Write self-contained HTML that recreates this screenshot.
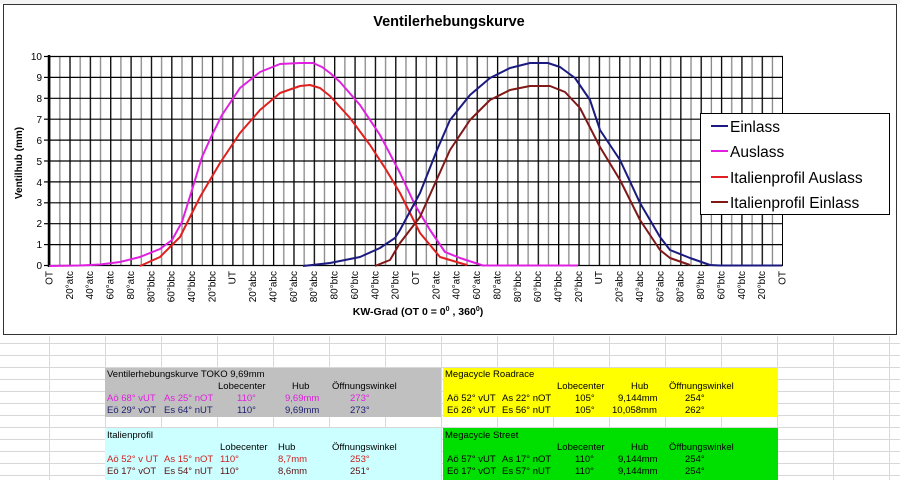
<!DOCTYPE html>
<html><head><meta charset="utf-8"><style>
body{margin:0;background:#fff;}
svg{display:block;font-family:"Liberation Sans",sans-serif;}
</style></head><body>
<svg width="900" height="480" viewBox="0 0 900 480">
<defs>
<pattern id="vg" patternUnits="userSpaceOnUse" x="49" y="0" width="20.361" height="10">
<rect x="0" y="0" width="1.3" height="10" fill="#000"/>
<rect x="10.18" y="0" width="1.3" height="10" fill="#888"/>
</pattern>
<pattern id="sg" patternUnits="userSpaceOnUse" x="49" y="343" width="56" height="12">
<rect x="0" y="0" width="1" height="12" fill="#d8d8d8"/>
<rect x="0" y="0" width="56" height="1" fill="#d8d8d8"/>
</pattern>
</defs>
<!-- spreadsheet grid -->
<rect x="0" y="336" width="900" height="144" fill="url(#sg)"/>
<rect x="0" y="0" width="900" height="4" fill="#f4f4f4"/>
<!-- chart frame -->
<rect x="3.5" y="4.5" width="893" height="330" fill="#fff" stroke="#333" stroke-width="1"/>
<text x="449" y="26" font-size="14.5" font-weight="bold" text-anchor="middle">Ventilerhebungskurve</text>
<!-- grid -->
<rect x="49" y="56" width="734" height="210" fill="url(#vg)"/>
<g stroke="#000" stroke-width="1.2">
<line x1="49" y1="56.5" x2="783" y2="56.5"/><line x1="49" y1="77.4" x2="783" y2="77.4"/><line x1="49" y1="98.3" x2="783" y2="98.3"/><line x1="49" y1="119.2" x2="783" y2="119.2"/><line x1="49" y1="140.1" x2="783" y2="140.1"/><line x1="49" y1="161" x2="783" y2="161"/><line x1="49" y1="181.9" x2="783" y2="181.9"/><line x1="49" y1="202.8" x2="783" y2="202.8"/><line x1="49" y1="223.7" x2="783" y2="223.7"/><line x1="49" y1="244.6" x2="783" y2="244.6"/><line x1="49" y1="265.5" x2="783" y2="265.5"/>
</g>
<line x1="49" y1="55" x2="49" y2="267" stroke="#000" stroke-width="2.5"/>
<g stroke="#000" stroke-width="1.2">
<line x1="44" y1="56.5" x2="49" y2="56.5"/><line x1="44" y1="77.4" x2="49" y2="77.4"/><line x1="44" y1="98.3" x2="49" y2="98.3"/><line x1="44" y1="119.2" x2="49" y2="119.2"/><line x1="44" y1="140.1" x2="49" y2="140.1"/><line x1="44" y1="161" x2="49" y2="161"/><line x1="44" y1="181.9" x2="49" y2="181.9"/><line x1="44" y1="202.8" x2="49" y2="202.8"/><line x1="44" y1="223.7" x2="49" y2="223.7"/><line x1="44" y1="244.6" x2="49" y2="244.6"/><line x1="44" y1="265.5" x2="49" y2="265.5"/>
</g>
<g font-size="10" text-anchor="end">
<text x="42" y="60">10</text><text x="42" y="81">9</text><text x="42" y="102">8</text><text x="42" y="123">7</text><text x="42" y="144">6</text><text x="42" y="165">5</text><text x="42" y="186">4</text><text x="42" y="206">3</text><text x="42" y="227">2</text><text x="42" y="248">1</text><text x="42" y="269">0</text>
</g>
<text transform="translate(22,163) rotate(-90)" font-size="10" font-weight="bold" text-anchor="middle">Ventilhub (mm)</text>
<!-- x labels -->
<g font-size="10" text-anchor="end">
<text transform="translate(52.5,271) rotate(-90)">OT</text>
<text transform="translate(72.9,271) rotate(-90)">20°atc</text>
<text transform="translate(93.2,271) rotate(-90)">40°atc</text>
<text transform="translate(113.6,271) rotate(-90)">60°atc</text>
<text transform="translate(133.9,271) rotate(-90)">80°atc</text>
<text transform="translate(154.3,271) rotate(-90)">80°bbc</text>
<text transform="translate(174.7,271) rotate(-90)">60°bbc</text>
<text transform="translate(195,271) rotate(-90)">40°bbc</text>
<text transform="translate(215.4,271) rotate(-90)">20°bbc</text>
<text transform="translate(235.7,271) rotate(-90)">UT</text>
<text transform="translate(256.1,271) rotate(-90)">20°abc</text>
<text transform="translate(276.5,271) rotate(-90)">40°abc</text>
<text transform="translate(296.8,271) rotate(-90)">60°abc</text>
<text transform="translate(317.2,271) rotate(-90)">80°abc</text>
<text transform="translate(337.5,271) rotate(-90)">80°btc</text>
<text transform="translate(357.9,271) rotate(-90)">60°btc</text>
<text transform="translate(378.3,271) rotate(-90)">40°btc</text>
<text transform="translate(398.6,271) rotate(-90)">20°btc</text>
<text transform="translate(419,271) rotate(-90)">OT</text>
<text transform="translate(439.4,271) rotate(-90)">20°atc</text>
<text transform="translate(459.7,271) rotate(-90)">40°atc</text>
<text transform="translate(480.1,271) rotate(-90)">60°atc</text>
<text transform="translate(500.4,271) rotate(-90)">80°atc</text>
<text transform="translate(520.8,271) rotate(-90)">80°bbc</text>
<text transform="translate(541.2,271) rotate(-90)">60°bbc</text>
<text transform="translate(561.5,271) rotate(-90)">40°bbc</text>
<text transform="translate(581.9,271) rotate(-90)">20°bbc</text>
<text transform="translate(602.2,271) rotate(-90)">UT</text>
<text transform="translate(622.6,271) rotate(-90)">20°abc</text>
<text transform="translate(643,271) rotate(-90)">40°abc</text>
<text transform="translate(663.3,271) rotate(-90)">60°abc</text>
<text transform="translate(683.7,271) rotate(-90)">80°abc</text>
<text transform="translate(704,271) rotate(-90)">80°btc</text>
<text transform="translate(724.4,271) rotate(-90)">60°btc</text>
<text transform="translate(744.8,271) rotate(-90)">40°btc</text>
<text transform="translate(765.1,271) rotate(-90)">20°btc</text>
<text transform="translate(785.5,271) rotate(-90)">OT</text>
</g>
<text x="418" y="315" font-size="10.5" font-weight="bold" text-anchor="middle">KW-Grad (OT 0 = 0<tspan font-size="7" dy="-4">0</tspan><tspan dy="4"> , 360</tspan><tspan font-size="7" dy="-4">0</tspan><tspan dy="4">)</tspan></text>
<!-- curves -->
<g fill="none" stroke-width="2" stroke-linejoin="round">
<polyline stroke="#e020e0" points="49,266 80,265.5 100,264.5 120,262 140,257 160,249 172,240 182,222 192,190 202,157 212,135 222,115 240,88 260,72 280,64 300,63 313,63 322,67 330,73 340,82 360,105 380,135 400,173 415,205 430,230 445,252 460,258 483,265.5 578,265.5"/>
<polyline stroke="#e02020" points="140,266 160,257 180,237 200,197 220,163 240,133 260,110 280,93 300,86 310,85 320,88 330,96 350,118 370,145 385,168 400,193 420,233 440,257 460,263 467,265"/>
<polyline stroke="#1a1a80" points="303,266 330,263 360,257 380,248 395,238 400,230 420,193 437,150 450,120 470,95 490,78 510,68 530,63 548,63 560,67 575,78 590,100 600,130 620,160 640,203 660,237 670,250 690,258 710,265 720,265.5 782,265.5"/>
<polyline stroke="#801818" points="375,266 390,260 400,243 420,217 450,150 470,120 490,100 510,90 530,86 550,86 565,92 580,108 600,147 620,180 640,220 660,250 670,258 690,265"/>
</g>
<!-- legend -->
<rect x="700.5" y="113.5" width="189" height="101" fill="#fff" stroke="#000" stroke-width="1"/>
<g stroke-width="2"><line x1="711" y1="126" x2="728" y2="126" stroke="#1a1a80"/><line x1="711" y1="151" x2="728" y2="151" stroke="#e020e0"/><line x1="711" y1="177" x2="728" y2="177" stroke="#e02020"/><line x1="711" y1="202" x2="728" y2="202" stroke="#801818"/></g>
<g font-size="15.5"><text x="730" y="132">Einlass</text><text x="730" y="157">Auslass</text><text x="730" y="183">Italienprofil Auslass</text><text x="730" y="208">Italienprofil Einlass</text></g>
<!-- tables -->
<rect x="105" y="368" width="336" height="49" fill="#c0c0c0"/>
<rect x="105" y="428" width="336" height="52" fill="#ccffff"/>
<rect x="443" y="368" width="335" height="49" fill="#ffff00"/>
<rect x="443" y="428" width="335" height="52" fill="#00e000"/>
<g font-size="9.5">
<text x="107" y="377">Ventilerhebungskurve TOKO 9,69mm</text>
<text x="218" y="389">Lobecenter</text><text x="292" y="389">Hub</text><text x="332" y="389">Öffnungswinkel</text>
<g fill="#e020e0"><text x="107" y="401">Aö 68° vUT</text><text x="164" y="401">As 25° nOT</text><text x="237" y="401">110°</text><text x="285" y="401">9,69mm</text><text x="350" y="401">273°</text></g>
<g fill="#202070"><text x="107" y="413">Eö 29° vOT</text><text x="164" y="413">Es 64° nUT</text><text x="237" y="413">110°</text><text x="285" y="413">9,69mm</text><text x="350" y="413">273°</text></g>
<text x="107" y="438">Italienprofil</text>
<text x="220" y="450">Lobecenter</text><text x="278" y="450">Hub</text><text x="332" y="450">Öffnungswinkel</text>
<g fill="#d02020"><text x="107" y="462">Aö 52° v UT</text><text x="164" y="462">As 15° nOT</text><text x="220" y="462">110°</text><text x="278" y="462">8,7mm</text><text x="350" y="462">253°</text></g>
<g fill="#601010"><text x="107" y="474">Eö 17° vOT</text><text x="164" y="474">Es 54° nUT</text><text x="220" y="474">110°</text><text x="278" y="474">8,6mm</text><text x="350" y="474">251°</text></g>
<text x="445" y="377">Megacycle Roadrace</text>
<text x="557" y="389">Lobecenter</text><text x="631" y="389">Hub</text><text x="669" y="389">Öffnungswinkel</text>
<text x="447" y="401">Aö 52° vUT</text><text x="502" y="401">As 22° nOT</text><text x="575" y="401">105°</text><text x="618" y="401">9,144mm</text><text x="685" y="401">254°</text>
<text x="447" y="413">Eö 26° vUT</text><text x="502" y="413">Es 56° nUT</text><text x="575" y="413">105°</text><text x="612" y="413">10,058mm</text><text x="685" y="413">262°</text>
<text x="445" y="438">Megacycle Street</text>
<text x="557" y="450">Lobecenter</text><text x="631" y="450">Hub</text><text x="669" y="450">Öffbungswinkel</text>
<text x="447" y="462">Aö 57° vUT</text><text x="502" y="462">As 17° nOT</text><text x="575" y="462">110°</text><text x="618" y="462">9,144mm</text><text x="685" y="462">254°</text>
<text x="447" y="474">Eö 17° vOT</text><text x="502" y="474">Es 57° nUT</text><text x="575" y="474">110°</text><text x="618" y="474">9,144mm</text><text x="685" y="474">254°</text>
</g>
</svg>
</body></html>
